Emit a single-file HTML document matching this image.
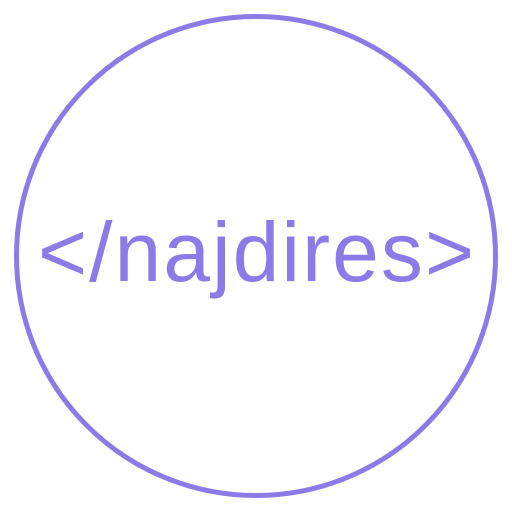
<!DOCTYPE html>
<html><head><style>html,body{margin:0;padding:0;background:#fff;}</style></head>
<body>
<svg width="512" height="512" viewBox="0 0 512 512" xmlns="http://www.w3.org/2000/svg">
<circle cx="256" cy="256" r="239.5" fill="none" stroke="#8b7be6" stroke-width="5"/>
<text x="38" y="281" font-family="Liberation Sans, sans-serif" font-size="84" fill="#8b7be6" textLength="436" lengthAdjust="spacing">&lt;/najdires&gt;</text>
</svg>
</body></html>
